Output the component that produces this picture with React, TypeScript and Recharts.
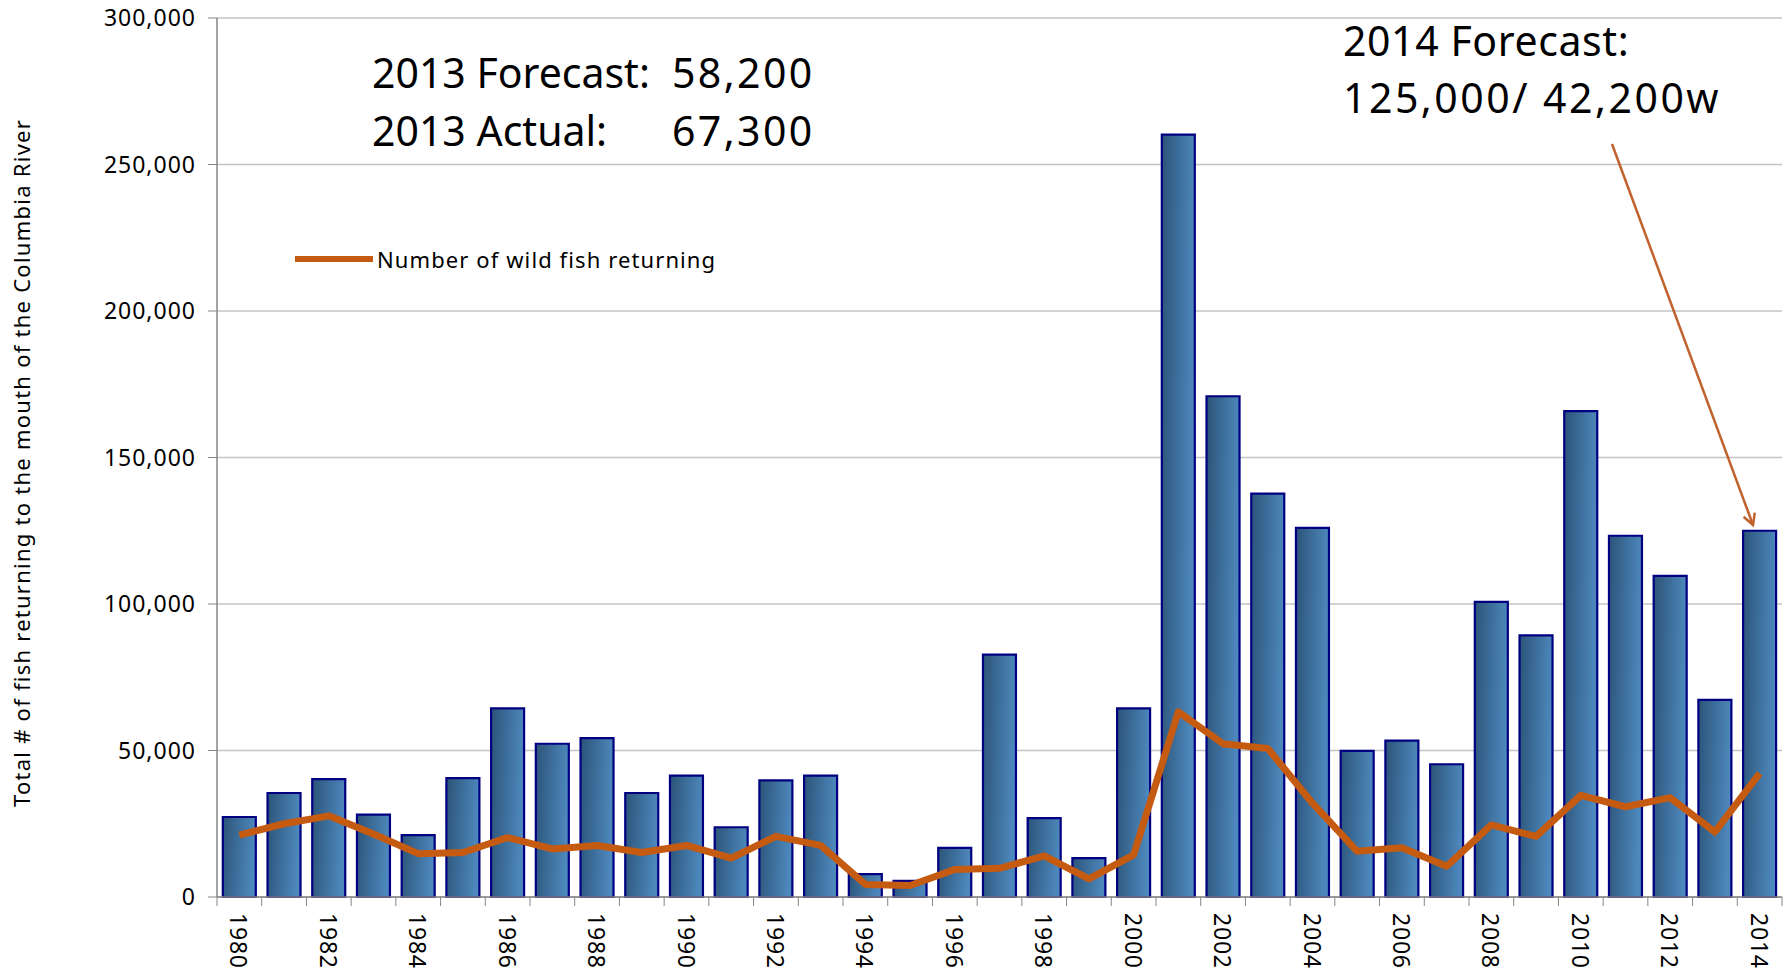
import React from 'react';
import {
  ComposedChart,
  Bar,
  Line,
  XAxis,
  YAxis,
  CartesianGrid,
  Legend,
} from 'recharts';

// Total fish returning vs. wild fish returning, 1980-2014
const years = [
  1980, 1981, 1982, 1983, 1984, 1985, 1986, 1987, 1988, 1989,
  1990, 1991, 1992, 1993, 1994, 1995, 1996, 1997, 1998, 1999,
  2000, 2001, 2002, 2003, 2004, 2005, 2006, 2007, 2008, 2009,
  2010, 2011, 2012, 2013, 2014,
];

const totalReturns = [
  27300, 35500, 40200, 28100, 21100, 40600, 64400, 52300, 54200, 35500,
  41400, 23800, 39800, 41400, 7800, 5500, 16800, 82700, 26900, 13300,
  64400, 260200, 170900, 137700, 126000, 49900, 53400, 45300, 100700, 89300,
  165800, 123300, 109600, 67300, 125000,
];

const wildReturns = [
  21100, 25000, 27700, 21500, 14800, 15200, 20300, 16400, 17600, 15200,
  17600, 13300, 20700, 17600, 4300, 3900, 9400, 9800, 14000, 6200,
  14400, 63200, 52300, 50700, 32000, 15600, 16800, 10500, 24600, 20700,
  34700, 30800, 33900, 22200, 42200,
];

const yTicks = [0, 50000, 100000, 150000, 200000, 250000, 300000];

const data = years.map((year, i) => ({
  year,
  total: totalReturns[i],
  wild: wildReturns[i],
}));

const W = 1791;
const H = 973;
const PLOT_LEFT = 217;
const PLOT_RIGHT = 1782;
const BAND = (PLOT_RIGHT - PLOT_LEFT) / years.length;
const FONT = '"Noto Sans", sans-serif';
const ORANGE = '#c55a11';
const AXIS_GREY = '#868686';

const fmt = (v: number) => v.toLocaleString('en-US');

// rotated year label plus tick marks on both category edges
const YearTick = ({ x, y, payload }: any) => (
  <g>
    <line x1={x - BAND / 2} x2={x - BAND / 2} y1={y} y2={y + 9} stroke={AXIS_GREY} />
    <line x1={x + BAND / 2} x2={x + BAND / 2} y1={y} y2={y + 9} stroke={AXIS_GREY} />
    <text
      transform={`translate(${x}, ${y + 16}) rotate(90)`}
      textAnchor="start"
      dominantBaseline="central"
      fontFamily={FONT}
      fontSize={23}
      letterSpacing={0.8}
      fill="#000"
    >
      {payload.value}
    </text>
  </g>
);

const LegendContent = ({ payload }: any) => (
  <div style={{ fontFamily: FONT, fontSize: 22, color: '#000', whiteSpace: 'nowrap' }}>
    {(payload || [])
      .filter((p: any) => p.dataKey === 'wild')
      .map((p: any) => (
        <div key={p.value} style={{ display: 'flex', alignItems: 'center' }}>
          <span style={{ display: 'inline-block', width: 78, height: 6, background: ORANGE, marginRight: 4 }} />
          <span style={{ letterSpacing: 1.1 }}>{p.value}</span>
        </div>
      ))}
  </div>
);

export default function App() {
  return (
    <div style={{ position: 'relative', width: W, height: H, background: '#fff' }}>
      <style>{'body{margin:0}'}</style>
      <ComposedChart
        width={W}
        height={H}
        data={data}
        margin={{ top: 18, right: W - PLOT_RIGHT, bottom: 0, left: 0 }}
        barCategoryGap="13%"
      >
        <defs>
          <linearGradient id="barFill" x1="0" y1="0" x2="1" y2="0.15">
            <stop offset="0%" stopColor="#2c5478" />
            <stop offset="100%" stopColor="#4d88bd" />
          </linearGradient>
        </defs>
        <CartesianGrid vertical={false} stroke="#c4c4c4" strokeWidth={1.5} />
        <XAxis
          dataKey="year"
          interval={1}
          height={76}
          tickLine={false}
          tickSize={0}
          tickMargin={0}
          axisLine={{ stroke: AXIS_GREY, strokeWidth: 1.5 }}
          tick={<YearTick />}
        />
        <YAxis
          width={PLOT_LEFT}
          domain={[0, 300000]}
          ticks={yTicks}
          tickFormatter={fmt}
          tickSize={9}
          tickMargin={12}
          axisLine={{ stroke: AXIS_GREY, strokeWidth: 1.5 }}
          tickLine={{ stroke: AXIS_GREY }}
          tick={{ fontFamily: FONT, fontSize: 23, fill: '#000', letterSpacing: 1 }}
        />
        <Legend
          content={<LegendContent />}
          layout="vertical"
          verticalAlign="middle"
          align="center"
          wrapperStyle={{ position: 'absolute', left: 295, top: 244, width: 460 }}
        />
        <Bar
          dataKey="total"
          name="Total fish returning"
          fill="url(#barFill)"
          stroke="#000080"
          strokeWidth={2.2}
          isAnimationActive={false}
        />
        <Line
          dataKey="wild"
          name="Number of wild fish returning"
          type="linear"
          stroke={ORANGE}
          strokeWidth={7}
          strokeLinejoin="round"
          dot={false}
          activeDot={false}
          isAnimationActive={false}
        />
      </ComposedChart>

      <svg
        width={W}
        height={H}
        style={{ position: 'absolute', left: 0, top: 0, pointerEvents: 'none' }}
      >
        <defs>
          <marker id="arrowHead" markerWidth="14" markerHeight="14" refX="12" refY="7" orient="auto" markerUnits="userSpaceOnUse">
            <path d="M1,1 L12,7 L1,13" fill="none" stroke="#c0622b" strokeWidth={2.5} />
          </marker>
        </defs>
        <text
          transform="translate(30, 463) rotate(-90)"
          textAnchor="middle"
          fontFamily={FONT}
          fontSize={22}
          letterSpacing={1.25}
          fill="#000"
        >
          Total # of fish returning to the mouth of the Columbia River
        </text>
        <g fontFamily={FONT} fontSize={41} fill="#000">
          <text x={372} y={88}>2013 Forecast:</text>
          <text x={672} y={88} letterSpacing={2.4}>58,200</text>
          <text x={372} y={146}>2013 Actual:</text>
          <text x={672} y={146} letterSpacing={2.4}>67,300</text>
          <text x={1343} y={56} letterSpacing={0.6}>2014 Forecast:</text>
          <text x={1343} y={113} letterSpacing={2.5}>125,000/ 42,200w</text>
        </g>
        <line
          x1={1612}
          y1={144}
          x2={1753}
          y2={525}
          stroke="#c0622b"
          strokeWidth={2.5}
          markerEnd="url(#arrowHead)"
        />
      </svg>
    </div>
  );
}
